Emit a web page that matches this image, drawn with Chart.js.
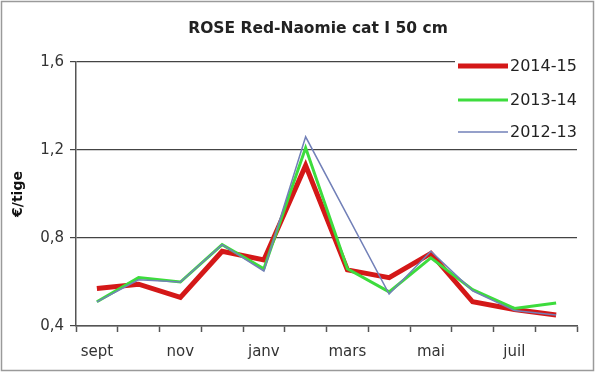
<!DOCTYPE html>
<html>
<head>
<meta charset="utf-8">
<script src="https://cdn.jsdelivr.net/npm/chart.js@4.4.1/dist/chart.umd.min.js"></script>
<style>
  html, body { margin: 0; padding: 0; background: #fff; }
  #c { display: block; }
</style>
</head>
<body>
<canvas id="c" width="597" height="373"></canvas>
<script>
const chartTitle = 'ROSE Red-Naomie cat I 50 cm';
const yAxisTitle = '€/tige';
const months = ['sept', 'oct', 'nov', 'déc', 'janv', 'févr', 'mars', 'avr', 'mai', 'juin', 'juil', 'août'];
const shownMonths = ['sept', 'nov', 'janv', 'mars', 'mai', 'juil'];
const yTicks = [0.4, 0.8, 1.2, 1.6];
const seriesNames = ['2014-15', '2013-14', '2012-13'];
const s2014_15 = [0.57, 0.59, 0.53, 0.74, 0.70, 1.13, 0.655, 0.62, 0.73, 0.51, 0.475, 0.45];
const s2013_14 = [0.51, 0.62, 0.60, 0.77, 0.66, 1.21, 0.66, 0.555, 0.71, 0.565, 0.48, 0.505];
const s2012_13 = [0.51, 0.61, 0.60, 0.77, 0.65, 1.26, null, 0.545, 0.74, 0.56, 0.47, 0.45];

const FONT = '"DejaVu Sans", Verdana, sans-serif';

const frame = {
  id: 'frame',
  beforeDraw(chart) {
    const ctx = chart.ctx;
    ctx.save();
    ctx.fillStyle = '#fff';
    ctx.fillRect(0, 0, chart.width, chart.height);
    ctx.strokeStyle = '#9a9a9a';
    ctx.lineWidth = 1.5;
    ctx.strokeRect(1.5, 1.5, chart.width - 5, chart.height - 4);
    ctx.fillStyle = '#222';
    ctx.font = 'bold 15.5px ' + FONT;
    ctx.textAlign = 'center';
    ctx.textBaseline = 'middle';
    ctx.fillText(chartTitle, 318, 29);
    ctx.restore();
  },
  afterDatasetsDraw(chart) {
    const ctx = chart.ctx;
    ctx.save();
    const rows = [66, 100, 132];
    seriesNames.forEach((name, i) => {
      const ds = chart.data.datasets.find(d => d.label === name);
      const y = rows[i];
      ctx.fillStyle = '#fff';
      ctx.fillRect(455, y - 10, 128, 20);
      ctx.strokeStyle = ds.borderColor;
      ctx.lineWidth = ds.borderWidth;
      ctx.beginPath();
      ctx.moveTo(458, y);
      ctx.lineTo(508, y);
      ctx.stroke();
      ctx.fillStyle = '#222';
      ctx.font = '16px ' + FONT;
      ctx.textAlign = 'left';
      ctx.textBaseline = 'middle';
      ctx.fillText(ds.label, 510, y + 1);
    });
    ctx.restore();
  }
};

new Chart(document.getElementById('c'), {
  type: 'line',
  data: {
    labels: months,
    datasets: [
      { label: seriesNames[2], data: s2012_13, borderColor: '#7280b8', borderWidth: 1.5, spanGaps: true },
      { label: seriesNames[1], data: s2013_14, borderColor: '#3ddc3d', borderWidth: 3 },
      { label: seriesNames[0], data: s2014_15, borderColor: '#d41818', borderWidth: 5 }
    ]
  },
  options: {
    responsive: false,
    animation: false,
    layout: { padding: { left: 0, top: 62, right: 20, bottom: 0 } },
    elements: { point: { radius: 0 }, line: { tension: 0, fill: false } },
    plugins: { legend: { display: false }, title: { display: false }, tooltip: { enabled: false } },
    scales: {
      x: {
        offset: true,
        grid: { display: true, offset: true, drawOnChartArea: false, color: '#555', tickLength: 6, tickWidth: 1.5 },
        border: { display: true, color: '#555', width: 1.5 },
        ticks: {
          autoSkip: false, maxRotation: 0, padding: 11, color: '#333',
          font: { size: 15, family: FONT },
          callback: function (v) { const m = this.getLabelForValue(v); return shownMonths.includes(m) ? m : ''; }
        },
        afterFit(s) { s.height = 47; }
      },
      y: {
        min: 0.4, max: 1.6,
        afterBuildTicks(s) { s.ticks = yTicks.map(v => ({ value: v })); },
        grid: { color: '#444', lineWidth: 1.2, tickLength: 6 },
        border: { display: true, color: '#555', width: 1.5 },
        ticks: {
          padding: 6, color: '#333',
          font: { size: 15, family: FONT },
          callback: v => v.toFixed(1).replace('.', ',')
        },
        title: {
          display: true, text: yAxisTitle, color: '#111',
          font: { size: 14, weight: 'bold', family: FONT },
          padding: { top: 10, bottom: 0 }
        },
        afterFit(s) { s.width = 76; }
      }
    }
  },
  plugins: [frame]
});
</script>
</body>
</html>
